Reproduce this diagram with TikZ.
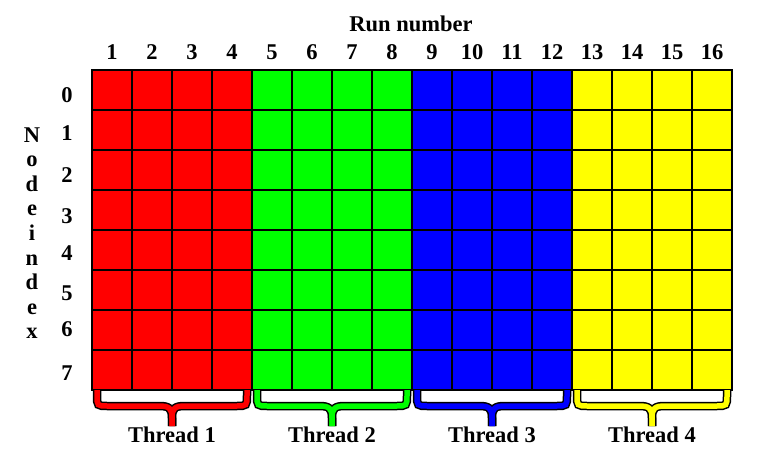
\documentclass[tikz,border=0pt]{standalone}
\usepackage{fontspec}
\setmainfont{Liberation Serif}
\begin{document}
\begin{tikzpicture}[x=1pt,y=-1pt,
  lbl/.style={font=\fontsize{22.5}{22.5}\selectfont\bfseries, anchor=base, inner sep=0pt},
  braceout/.style={draw=black, line width=8.5pt},
  bracein/.style={draw=#1, line width=5.5pt}]
\useasboundingbox (0,0) rectangle (781,455);
\definecolor{cA}{RGB}{255,0,0}
\definecolor{cB}{RGB}{0,255,0}
\definecolor{cC}{RGB}{0,0,255}
\definecolor{cD}{RGB}{255,255,0}
% grid
\foreach \c [count=\t from 0] in {cA,cB,cC,cD} {
  \fill[\c] (92+160*\t,70) rectangle (252+160*\t,390);
}
\foreach \i in {0,...,16} \draw[line width=1.4pt] (92+40*\i,70) -- (92+40*\i,390);
\foreach \j in {0,...,8} \draw[line width=1.4pt] (92,70+40*\j) -- (732,70+40*\j);
\draw[line width=2pt] (92,70) rectangle (732,390);
% column labels
\node[lbl] (run) at (411,31) {Run number};
\foreach \i in {1,...,16} \node[lbl] (col\i) at (72+40*\i,59) {\i};
% row labels
\foreach \r/\b in {0/102,1/140,2/182,3/223,4/260,5/300,6/336,7/380}
  \node[lbl] (row\r) at (67,\b) {\r};
% Node index
\foreach \ch [count=\k from 0] in {N,o,d,e,i,n,d,e,x}
  \node[lbl] (ni\k) at (32,142+24.6*\k) {\ch};
% braces and thread labels
\newcommand\mybrace[4]{%
  \draw[#4] (#1,390) -- (#1,395) .. controls (#1,406) .. (#1+11,406)
    -- (#3-13,406) .. controls (#3-3,406) and (#3,408) .. (#3,418) -- (#3,426);
  \draw[#4] (#2,390) -- (#2,395) .. controls (#2,406) .. (#2-11,406)
    -- (#3+13,406) .. controls (#3+3,406) and (#3,408) .. (#3,418) -- (#3,426);
}
\foreach \c [count=\t from 0] in {cA,cB,cC,cD} {
  \pgfmathsetmacro{\xa}{97+160*\t}
  \pgfmathsetmacro{\xb}{247+160*\t}
  \pgfmathsetmacro{\xm}{172+160*\t}
  \mybrace{\xa}{\xb}{\xm}{braceout}
  \mybrace{\xa}{\xb}{\xm}{bracein=\c}
  \pgfmathtruncatemacro{\tn}{\t+1}
  \node[lbl] (th\tn) at (\xm,442) {Thread \tn};
}
\end{tikzpicture}
\end{document}
